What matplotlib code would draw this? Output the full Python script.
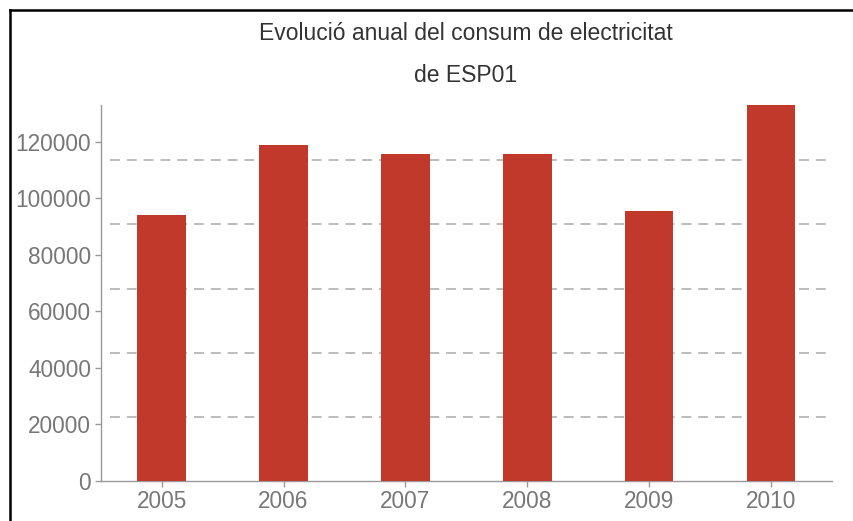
import matplotlib
matplotlib.use('Agg')
import matplotlib.pyplot as plt
from matplotlib.lines import Line2D

plt.rcParams['font.family'] = ['Liberation Sans', 'DejaVu Sans']

# dades
anys = ['2005', '2006', '2007', '2008', '2009', '2010']
consum = [94050, 118800, 115650, 115900, 95600, 133100]
yticks = [0, 20000, 40000, 60000, 80000, 100000, 120000]
grid_step = 22690

fig = plt.figure(figsize=(8.54, 5.21), dpi=100)
ax = fig.add_axes([0.118, 0.0774, 0.856, 0.7211])

x = range(len(anys))
ax.bar(x, consum, width=0.4, color='#c0392b', zorder=3)

# linies de fons discontinues
for k in range(1, 6):
    ax.axhline(grid_step * k, xmin=0.013, color='#aaaaaa', lw=1.1,
               dashes=(6.5, 4.5), zorder=1)

ax.set_xlim(-0.5, len(anys) - 0.5)
ax.set_ylim(0, max(consum))
ax.set_xticks(list(x))
ax.set_xticklabels(anys)
ax.set_yticks(yticks)
ax.set_yticklabels([str(v) for v in yticks])

for s in ['top', 'right']:
    ax.spines[s].set_visible(False)
for s in ['left', 'bottom']:
    ax.spines[s].set_color('#999999')
    ax.spines[s].set_linewidth(1.0)
ax.tick_params(colors='#999999', labelcolor='#777777', labelsize=16.3,
               length=4, width=1.0, pad=3)

# titol
fig.text(0.5457, 1 - 40 / 521, 'Evolució anual del consum de electricitat',
         ha='center', va='baseline', fontsize=16.5, color='#333333')
fig.text(0.5457, 1 - 82 / 521, 'de ESP01',
         ha='center', va='baseline', fontsize=16.5, color='#333333')

# marc
fig.add_artist(Line2D([10 / 854, 10 / 854], [0, 1 - 10 / 521], color='black', lw=1.8))
fig.add_artist(Line2D([10 / 854, 1], [1 - 10 / 521, 1 - 10 / 521], color='black', lw=1.8))

fig.savefig('out.png', dpi=100)
